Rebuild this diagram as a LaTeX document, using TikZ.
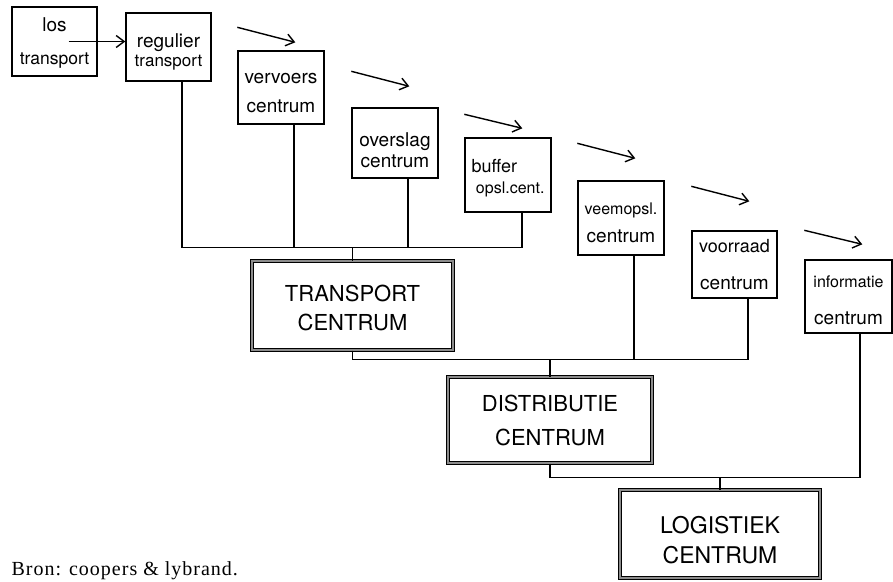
\documentclass[tikz,border=0pt]{standalone}
\usepackage{fontspec}
\setmainfont{TeX Gyre Heros}
\newfontfamily\bronfont{Liberation Serif}[LetterSpace=5]
\usepackage{tikz}
\usetikzlibrary{arrows.meta}
\usetikzlibrary{positioning}
\newcommand{\omlaag}[1]{\rule{0pt}{#1pt}}

\begin{document}
\begin{tikzpicture}[x=1pt,y=-1pt,
  hokje/.style={draw,line width=1.4pt,inner sep=0pt,minimum width=86pt,minimum height=72pt,align=center},
  centrum/.style={draw=black,line width=1pt,double=black!45,double distance=1.6pt,inner sep=0pt,minimum width=200pt,minimum height=86pt,align=center},
  lijn/.style={line width=1.4pt},
  pijl/.style={line width=1.4pt,-{Straight Barb[length=8pt,width=12pt]}}]
\useasboundingbox (0,0) rectangle (893,581);

% kleine centra
\node[hokje,minimum width=85pt,minimum height=69pt,font=\fontsize{19}{33}\selectfont] (los) at (54.5,41.5) {\omlaag{16}los\\{\fontsize{17.5}{33}\selectfont transport}};
\node[hokje,minimum width=85pt,minimum height=68pt,font=\fontsize{19}{19}\selectfont] (regulier) at (168.5,47) {\omlaag{24}regulier\\{\fontsize{17}{19}\selectfont transport}};
\node[hokje,minimum height=73pt,font=\fontsize{19}{29}\selectfont] (vervoers) at (281,87.5) {\omlaag{22}vervoers\\centrum};
\node[hokje,minimum height=70pt,font=\fontsize{19}{21}\selectfont] (overslag) at (395,143) {\omlaag{28}overslag\\centrum};
\node[hokje,minimum height=74pt,align=left,font=\fontsize{18}{21}\selectfont] (buffer) at (508,175) {\omlaag{19}buffer\\{\fontsize{16}{21}\selectfont\ opsl.cent.}};
\node[hokje,minimum height=74pt,font=\fontsize{16}{28}\selectfont] (veemopsl) at (621,218) {\omlaag{21.5}veemopsl.\\{\fontsize{19}{28}\selectfont centrum}};
\node[hokje,minimum width=85pt,minimum height=67pt,font=\fontsize{18}{37}\selectfont] (voorraad) at (734.5,264.5) {\omlaag{14}voorraad\\{\fontsize{19}{37}\selectfont centrum}};
\node[hokje,minimum width=87pt,minimum height=73pt,font=\fontsize{16}{37}\selectfont] (informatie) at (848.5,296.5) {\omlaag{19.5}informatie\\{\fontsize{19}{37}\selectfont centrum}};

% grote centra
\node[centrum,minimum width=201pt,minimum height=89pt,font=\fontsize{22}{29}\selectfont] (transport) at (352.5,305.5) {\omlaag{22}TRANSPORT\\CENTRUM};
\node[centrum,minimum width=204pt,font=\fontsize{22}{34}\selectfont] (distributie) at (550,420) {DISTRIBUTIE\\CENTRUM};
\node[centrum,minimum height=88pt,font=\fontsize{23}{30}\selectfont] (logistiek) at (720,534) {\omlaag{29}LOGISTIEK\\CENTRUM};

\coordinate (bus1) at ([yshift=13pt]transport.north);
\coordinate (bus2) at ([yshift=17pt]distributie.north);
\coordinate (bus3) at ([yshift=12pt]logistiek.north);

\draw[lijn] ([xshift=13.5pt]regulier.south) |- (bus1) -| ([xshift=14pt]buffer.south);
\draw[lijn] ([xshift=13pt]vervoers.south) |- (bus1);
\draw[lijn] ([xshift=13pt]overslag.south) |- (bus1);
\draw[lijn] (bus1) -- (transport.north);

\draw[lijn] (transport.south) |- (bus2) -| ([xshift=13.5pt]voorraad.south);
\draw[lijn] ([xshift=13pt]veemopsl.south) |- (bus2);
\draw[lijn] (bus2) -- (distributie.north);

\draw[lijn] (distributie.south) |- (bus3) -| ([xshift=11.5pt]informatie.south);
\draw[lijn] (bus3) -- (logistiek.north);

% pijlen
\draw[pijl] ([xshift=14pt]los.center) -- (los.center -| regulier.west);
\draw[pijl] ([yshift=23pt]vervoers.north west) -- ++(58,15);
\draw[pijl] ([yshift=36pt]overslag.north west) -- ++(58,15);
\draw[pijl] ([yshift=23pt]buffer.north west) -- ++(58,14);
\draw[pijl] ([yshift=37pt]veemopsl.north west) -- ++(58,15);
\draw[pijl] ([yshift=44pt]voorraad.north west) -- ++(58,15);
\draw[pijl] ([yshift=29pt]informatie.north west) -- ++(58,14);

\node[anchor=base west,font=\bronfont\fontsize{20}{24}\selectfont] (bron) at (8,575.5) {Bron: coopers \& lybrand.};
\end{tikzpicture}
\end{document}
